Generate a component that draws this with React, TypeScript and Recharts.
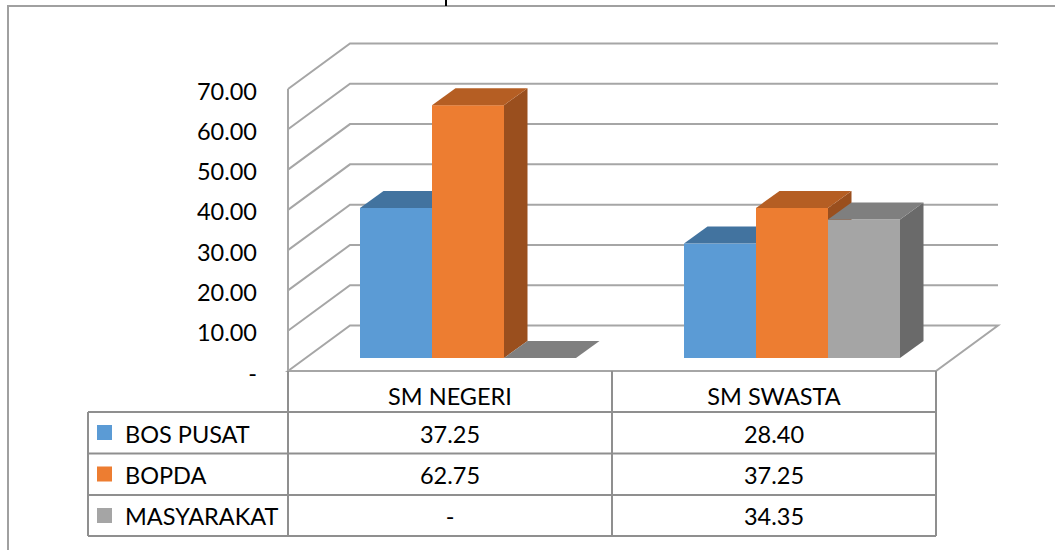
import React from "react"
import { Bar, BarChart, CartesianGrid, XAxis, YAxis } from "recharts"

const categories = ["SM NEGERI", "SM SWASTA"]
const bosPusat = [37.25, 28.4]
const bopda = [62.75, 37.25]
const masyarakat = [0, 34.35]
const yTicks = [0, 10, 20, 30, 40, 50, 60, 70]

const series = [
  { key: "bosPusat", name: "BOS PUSAT", values: bosPusat, front: "#5B9BD5", top: "#42739F", side: "#36628C" },
  { key: "bopda", name: "BOPDA", values: bopda, front: "#ED7D31", top: "#B55E23", side: "#9A4F1E" },
  { key: "masyarakat", name: "MASYARAKAT", values: masyarakat, front: "#A5A5A5", top: "#7F7F7F", side: "#6A6A6A" },
]

const data = categories.map((name, i) => {
  const row: Record<string, string | number> = { name }
  series.forEach((s) => (row[s.key] = s.values[i]))
  return row
})

const W = 1055
const H = 550
const PLOT_LEFT = 288
const PLOT_RIGHT = 936
const PLOT_TOP = 89
const PLOT_BOTTOM = 371
const WALL = { dx: 62, dy: -45.5 }
const BAR_OFF = { dx: 18, dy: -13 }
const BAR_DEPTH = { dx: 23.5, dy: -17 }
const ROW_LINES = [412, 453.5, 495, 536]
const TABLE_LEFT = 88
const FONT = "Lato, 'Open Sans', sans-serif"
const FONT_SIZE = 23.5
const GRID = "#A6A6A6"
const TABLE_LINE = "#8F8F8F"

const fmt = (v: number) => (v === 0 ? "-" : v.toFixed(2))

function make3DShape(s: (typeof series)[number]) {
  return (props: any) => {
    const { x, y, width, height } = props
    const fx = x + BAR_OFF.dx
    const fy = y + BAR_OFF.dy
    const w = width
    const h = height || 0
    const { dx, dy } = BAR_DEPTH
    const top = `M${fx},${fy} L${fx + dx},${fy + dy} L${fx + w + dx},${fy + dy} L${fx + w},${fy} Z`
    const side = `M${fx + w},${fy} L${fx + w + dx},${fy + dy} L${fx + w + dx},${fy + h + dy} L${fx + w},${fy + h} Z`
    return (
      <g>
        {h > 0 && <rect x={fx} y={fy} width={w} height={h} fill={s.front} />}
        {h > 0 && <path d={side} fill={s.side} />}
        <path d={top} fill={s.top} />
      </g>
    )
  }
}

const gridLine = (p: any) => {
  const { x1, x2, y1 } = p
  const bx1 = x1 + WALL.dx
  const bx2 = x2 + WALL.dx
  const by = y1 + WALL.dy
  const floor = Math.abs(y1 - PLOT_BOTTOM) < 1
  const d = floor
    ? `M${x1},${y1} L${bx1},${by} L${bx2},${by} L${x2},${y1} Z`
    : `M${x1},${y1} L${bx1},${by} L${bx2},${by}`
  return <path key={p.key} d={d} fill="none" stroke={GRID} strokeWidth={2} />
}

const YTick = (p: any) => (
  <text x={PLOT_LEFT - 31} y={p.y + 10.5} textAnchor="end" fontFamily={FONT} fontSize={FONT_SIZE} fill="#000">
    {fmt(p.payload.value)}
  </text>
)

const ColumnTick = (p: any) => {
  const i = p.index
  const cx = p.x
  const band = (PLOT_RIGHT - PLOT_LEFT) / categories.length
  const left = cx - band / 2
  const right = cx + band / 2
  return (
    <g>
      <line x1={left} y1={PLOT_BOTTOM} x2={left} y2={ROW_LINES[3]} stroke={TABLE_LINE} strokeWidth={2} />
      <line x1={right} y1={PLOT_BOTTOM} x2={right} y2={ROW_LINES[3]} stroke={TABLE_LINE} strokeWidth={2} />
      <text x={cx} y={ROW_LINES[0] - 7} textAnchor="middle" fontFamily={FONT} fontSize={FONT_SIZE} fill="#000">
        {p.payload.value}
      </text>
      {series.map((s, r) => (
        <text key={s.key} x={cx} y={ROW_LINES[r + 1] - 11} textAnchor="middle" fontFamily={FONT} fontSize={FONT_SIZE} fill="#000">
          {fmt(s.values[i])}
        </text>
      ))}
    </g>
  )
}

export default function App() {
  return (
    <div style={{ position: "absolute", left: 0, top: 0, width: W, height: H, background: "#fff", overflow: "hidden" }}>
      <div style={{ position: "absolute", left: 7, top: 5, width: 1100, height: 600, borderTop: "2px solid #A0A0A0", borderLeft: "2px solid #A0A0A0" }} />
      <div style={{ position: "absolute", left: 445, top: 0, width: 2, height: 6, background: "#000" }} />
      <BarChart
        width={W}
        height={H}
        data={data}
        margin={{ top: PLOT_TOP, right: W - PLOT_RIGHT, left: 0, bottom: 0 }}
        barCategoryGap={54}
        barGap={0}
        style={{ position: "absolute", left: 0, top: 0 }}
      >
        <CartesianGrid vertical={false} horizontal={gridLine} />
        <YAxis
          width={PLOT_LEFT}
          domain={[0, 70]}
          ticks={yTicks}
          interval={0}
          axisLine={{ stroke: GRID, strokeWidth: 2 }}
          tickLine={false}
          tick={YTick}
        />
        <XAxis dataKey="name" height={H - PLOT_BOTTOM} axisLine={false} tickLine={false} tick={ColumnTick} interval={0} />
        {series.map((s) => (
          <Bar key={s.key} dataKey={s.key} name={s.name} fill={s.front} shape={make3DShape(s)} isAnimationActive={false} />
        ))}
      </BarChart>
      <svg width={W} height={H} style={{ position: "absolute", left: 0, top: 0, pointerEvents: "none" }}>
        {ROW_LINES.map((y) => (
          <line key={y} x1={TABLE_LEFT} y1={y} x2={PLOT_RIGHT} y2={y} stroke={TABLE_LINE} strokeWidth={2} />
        ))}
        <line x1={TABLE_LEFT} y1={ROW_LINES[0]} x2={TABLE_LEFT} y2={ROW_LINES[3]} stroke={TABLE_LINE} strokeWidth={2} />
        {series.map((s, r) => (
          <g key={s.key}>
            <rect x={97} y={ROW_LINES[r] + 13} width={15} height={15} fill={s.front} />
            <text x={125} y={ROW_LINES[r + 1] - 11} fontFamily={FONT} fontSize={FONT_SIZE} fill="#000">
              {s.name}
            </text>
          </g>
        ))}
      </svg>
    </div>
  )
}
